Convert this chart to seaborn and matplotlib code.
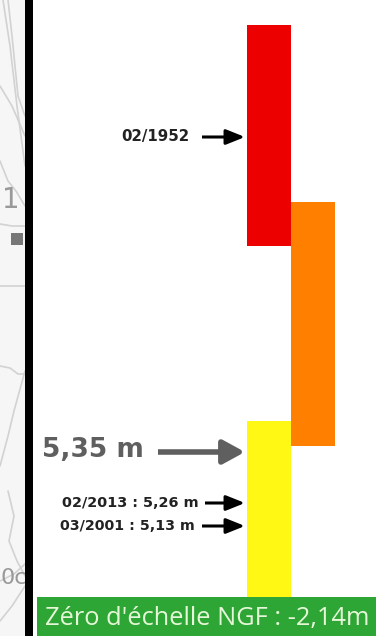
import pandas as pd
import seaborn as sns
import matplotlib.pyplot as plt

# --- values (level = px above the bottom edge) ---
columns = [0, 0, 1]
bar_bottoms = [39, 390, 190]
bar_tops = [215, 611, 434]
bar_colors = ['#fff714', '#ec0000', '#ff8000']

small_labels = ['02/1952', '02/2013 : 5,26 m', '03/2001 : 5,13 m']
small_levels = [499, 133, 110]
small_sizes = [10.8, 10.4, 10.3]
small_text_right = [189, 199, 195]
small_arrow_start = [202, 205, 202]
main_label = '5,35 m'
main_level = 184
banner_text = "Zéro d'échelle NGF : -2,14m"

# map details on the left strip
contour_x = [[0, 8, 16, 25], [3, 10, 17, 25], [8, 12, 18, 25], [0, 12, 25], [0, 25], [0, 12, 25],
             [0, 10, 18, 25], [0, 8, 14, 25], [8, 14, 9, 17, 25], [0, 14, 25], [0, 12, 25]]
contour_y = [[475, 455, 445, 430], [636, 590, 530, 470], [636, 600, 540, 520], [412, 410, 410], [350, 350], [550, 530, 500],
             [270, 268, 262, 262], [170, 200, 225, 265], [145, 120, 95, 75, 60], [55, 62, 72], [15, 30, 50]]
map_labels = ['1', '0c']
map_label_x = [2, 0]
map_label_y = [436, 58]
map_label_sizes = [20, 16]

W, H = 376, 636


def main():
    sns.set_theme(style='white')
    plt.rcParams['font.family'] = ['DejaVu Sans']

    df = pd.DataFrame({'col': columns, 'bottom': bar_bottoms, 'top': bar_tops, 'color': bar_colors})
    df['height'] = df['top'] - df['bottom']

    fig = plt.figure(figsize=(W / 100, H / 100), dpi=100)

    # full figure overlay in pixel units
    bg = fig.add_axes([0, 0, 1, 1])
    bg.axis('off')

    # map strip + black rule
    bg.axvspan(0, 25, color='#f6f6f6', lw=0)
    for xs, ys in zip(contour_x, contour_y):
        sns.lineplot(x=xs, y=ys, color='#d2d2d2', lw=1.2, sort=False, estimator=None, ax=bg, legend=False)
    for lab, x, y, s in zip(map_labels, map_label_x, map_label_y, map_label_sizes):
        bg.text(x, y, lab, fontsize=s, color='#999999', ha='left', va='center', clip_on=True)
    bg.axvspan(11, 23, ymin=391 / H, ymax=403 / H, color='#777777', lw=0)
    bg.axvspan(25, 33, color='black', lw=0, zorder=3)
    bg.set_xlim(0, W)
    bg.set_ylim(0, H)

    # bars
    ax = fig.add_axes([247 / W, 0, 88 / W, 1])
    ax.patch.set_alpha(0)
    for _, r in df.iterrows():
        sns.barplot(x=[r['col']], y=[r['height']], bottom=r['bottom'], color=r['color'],
                    order=[0, 1], width=1, saturation=1, linewidth=0, ax=ax)
    ax.set_xlim(-0.5, 1.5)
    ax.set_ylim(0, H)
    ax.axis('off')

    # annotations
    for lab, lev, s, tx, ax0 in zip(small_labels, small_levels, small_sizes, small_text_right, small_arrow_start):
        bg.text(tx, lev, lab, fontsize=s, fontweight='bold', color='#222222', ha='right', va='center', zorder=4)
        bg.annotate('', xy=(245, lev), xytext=(ax0, lev), zorder=4,
                    arrowprops=dict(arrowstyle='-|>,head_width=0.38,head_length=0.95', color='black', lw=2.2,
                                    shrinkA=0, shrinkB=0, capstyle='butt'))
    bg.text(42, main_level + 2, main_label, fontsize=19, fontweight='bold', color='#5f5f5f', ha='left', va='center',
            zorder=4)
    bg.annotate('', xy=(245, main_level), xytext=(158, main_level), zorder=4,
                arrowprops=dict(arrowstyle='-|>,head_width=0.6,head_length=1.1', color='#5f5f5f', lw=4,
                                shrinkA=0, shrinkB=0, capstyle='butt'))

    # banner
    bg.axvspan(37, W, ymin=0, ymax=39 / H, color='#2ea636', lw=0, zorder=5)
    ax.set_zorder(2)
    bg.set_zorder(1)
    bg.patch.set_alpha(0)
    # annotations and banner sit above the bars on their own layer
    top = fig.add_axes([0, 0, 1, 1], sharex=bg, sharey=bg)
    top.axis('off')
    top.set_zorder(3)
    top.axvspan(37, W, ymin=0, ymax=39 / H, color='#2ea636', lw=0)
    top.text(45, 17, banner_text, fontsize=18.3, family='Open Sans', color='#e6f7d8', ha='left', va='center')

    fig.savefig('out.png', dpi=100)


if __name__ == "__main__":
    main()
